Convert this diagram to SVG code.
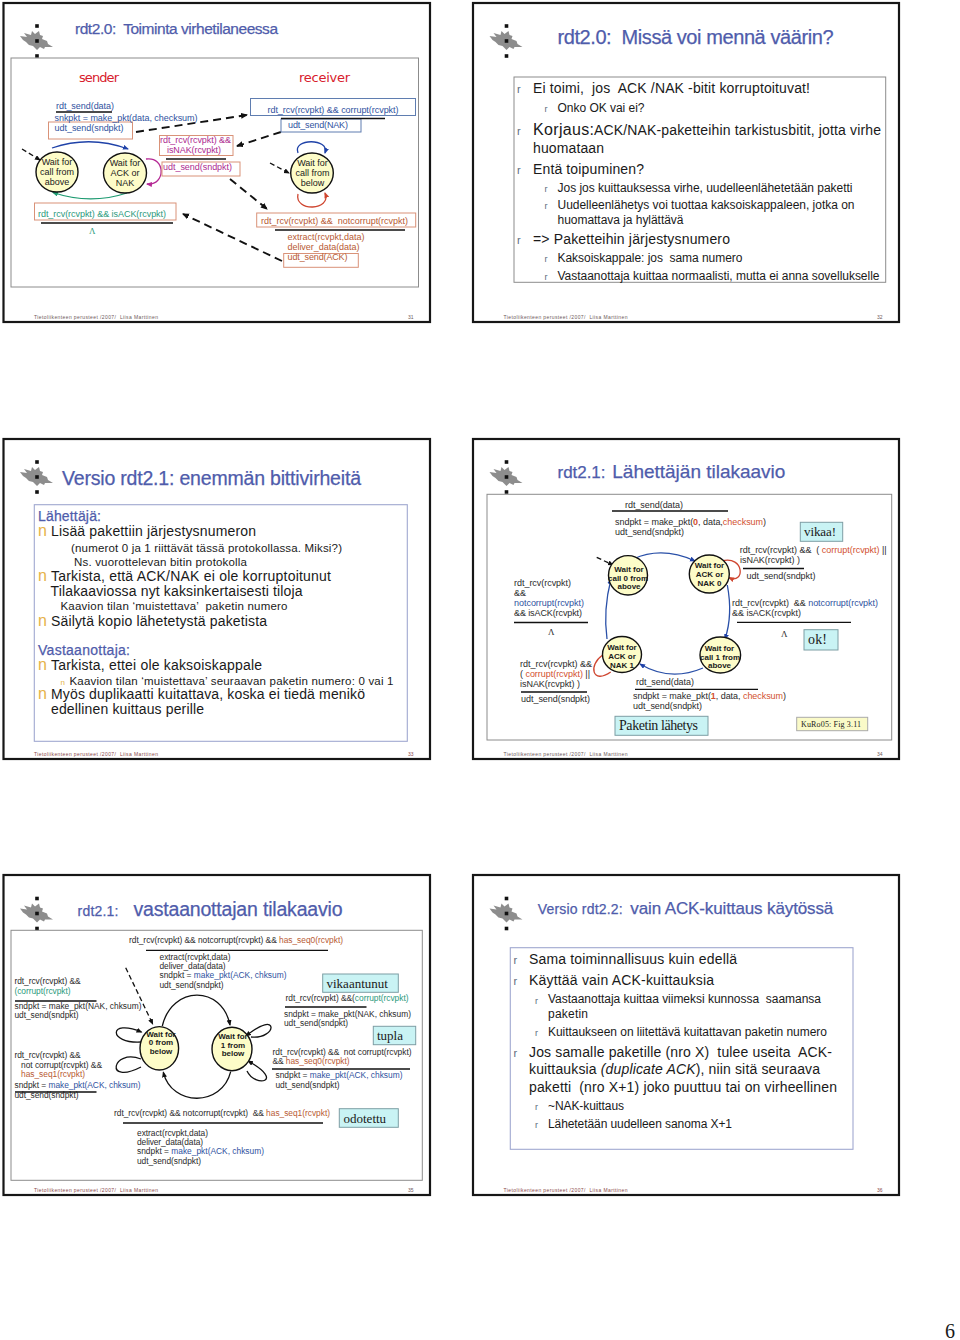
<svg xmlns="http://www.w3.org/2000/svg" width="960" height="1340" viewBox="0 0 960 1340">
<style>
text{font-family:"Liberation Sans",Arial,sans-serif;white-space:pre;fill:#1a1a1a}
.serif{font-family:"Liberation Serif","Times New Roman",serif}
.frame{fill:#fff;stroke:#161616;stroke-width:2.2}
.box{fill:none;stroke:#8c8c8c;stroke-width:1}
.boxb{fill:none;stroke:#a0a8d0;stroke-width:1.1}
.title{fill:#4f5cab;stroke:#4f5cab;stroke-width:.25}
.foot{font-size:5px;fill:#6e5a5a}
.footr{font-size:5px;fill:#8a4a4a}
.s9{font-size:9px;fill:#2a2a2a}
#slide35 .s9{font-size:8.4px}
.bl{fill:#2f52a0}.gr{fill:#2b9a7c}.mg{fill:#ad2a90}.or{fill:#b85a34}.rd{fill:#d2502f}
.nb{font-size:8px;font-weight:bold;text-anchor:middle}
.nr{font-size:9px;text-anchor:middle}
.st{fill:#fdfcc8;stroke:#111;stroke-width:1.4}
.rr{fill:none;stroke:#d99278;stroke-width:1}
.rb{fill:none;stroke:#5f7db0;stroke-width:1}
.lbl{fill:#c9f3f4;stroke:#7d9ea4;stroke-width:1}
.ul{stroke:#111;stroke-width:1.3;fill:none}
.dash{stroke:#111;stroke-width:1.9;fill:none;stroke-dasharray:8 5;marker-end:url(#ak)}
.dash2{stroke:#111;stroke-width:1.3;fill:none;stroke-dasharray:5 3;marker-end:url(#ak2)}
.c{fill:none;stroke-width:1.3}
.r1{font-size:11px;fill:#5d6d7d}.r2{font-size:9px;fill:#5d6d7d}
.n1{font-size:16px;fill:#e6b34a}.n2{font-size:8px;fill:#e6b34a}
.b14{font-size:14px}.b12{font-size:12px}
</style>
<defs>
<marker id="ak" markerWidth="8" markerHeight="8" refX="6" refY="3" orient="auto" markerUnits="userSpaceOnUse"><path d="M0 0L7 3L0 6z" fill="#111"/></marker>
<marker id="ak2" markerWidth="7" markerHeight="7" refX="5" refY="2.5" orient="auto" markerUnits="userSpaceOnUse"><path d="M0 0L6 2.5L0 5z" fill="#111"/></marker>
<marker id="ab" markerWidth="7" markerHeight="7" refX="5" refY="2.5" orient="auto" markerUnits="userSpaceOnUse"><path d="M0 0L6 2.5L0 5z" fill="#1f42a8"/></marker>
<marker id="ag" markerWidth="7" markerHeight="7" refX="5" refY="2.5" orient="auto" markerUnits="userSpaceOnUse"><path d="M0 0L6 2.5L0 5z" fill="#1c9a70"/></marker>
<marker id="am" markerWidth="7" markerHeight="7" refX="5" refY="2.5" orient="auto" markerUnits="userSpaceOnUse"><path d="M0 0L6 2.5L0 5z" fill="#b52a95"/></marker>
<marker id="ar" markerWidth="7" markerHeight="7" refX="5" refY="2.5" orient="auto" markerUnits="userSpaceOnUse"><path d="M0 0L6 2.5L0 5z" fill="#cf4630"/></marker>
<g id="logo">
<path d="M-17 -5L-10 -4L-13 -8L-6 -6L-5 -10L-2 -7L2 -10L3 -6L6 -5L5 -2L10 0L11 3L16 6L8 6L7 8L3 6L0 9L-4 5L-8 4L-11 1L-14 -1z" fill="#8d8d8d"/>
<rect x="-1.8" y="-16.8" width="3.6" height="3.6" fill="#111"/>
<rect x="-1.8" y="-1.8" width="3.6" height="3.6" fill="#111"/>
<rect x="-1.8" y="13.2" width="3.6" height="3.6" fill="#111"/>
</g>
</defs>
<rect width="960" height="1340" fill="#fff"/>

<g id="frames">
<rect class="frame" x="3.5" y="3" width="426.5" height="319"/>
<rect class="frame" x="473" y="3" width="426" height="319"/>
<rect class="frame" x="3.5" y="439" width="426.5" height="320"/>
<rect class="frame" x="473" y="439" width="426" height="320"/>
<rect class="frame" x="3.5" y="875" width="426.5" height="320"/>
<rect class="frame" x="473" y="875" width="426" height="320"/>
<use href="#logo" x="37" y="41"/><use href="#logo" x="506.5" y="41"/>
<use href="#logo" x="37" y="477"/><use href="#logo" x="506.5" y="477"/>
<use href="#logo" x="37" y="913.5"/><use href="#logo" x="506.5" y="913.5"/>
<rect class="box" x="11" y="58" width="407.5" height="229"/>
<rect class="box" x="514" y="77" width="371.7" height="205.3"/>
<rect class="boxb" x="34.3" y="504.7" width="373" height="236.6"/>
<rect class="box" x="487" y="494.3" width="404.7" height="245.7"/>
<rect class="box" x="11" y="930.3" width="411.3" height="250"/>
<rect class="boxb" x="510.3" y="947.7" width="342.7" height="201.6"/>
</g>

<g id="connectors">
<!-- slide 31 -->
<path class="dash" d="M136 132L247 115"/>
<path class="dash" d="M281 132L237 146"/>
<path class="dash" d="M230 179L267 209"/>
<path class="dash" d="M282 261L183 214"/>
<path class="dash2" d="M22 149L40 160"/>
<path class="dash2" d="M270 163L289 173"/>
<path class="c" stroke="#1f42a8" stroke-width="1.5" marker-end="url(#ab)" d="M52 148Q90 135 128 149"/>
<path class="c" stroke="#1c9a70" marker-end="url(#ag)" d="M127 193Q90 205 53 192.5"/>
<path class="c" stroke="#b52a95" marker-end="url(#am)" d="M146 159C166 156 166 186 147 184"/>
<path class="c" stroke="#1f42a8" marker-end="url(#ab)" d="M298 153C292 138 330 138 325 153"/>
<path class="c" stroke="#cf4630" marker-end="url(#ar)" d="M298 194C294 212 332 211 325 193"/>
<!-- slide 34 -->
<path class="c" stroke="#2a50a8" marker-end="url(#ab)" d="M633.3 559Q662 546 695 561"/>
<path class="c" stroke="#2a50a8" marker-end="url(#ab)" d="M727.3 585Q733 615 725 639"/>
<path class="c" stroke="#2a50a8" marker-end="url(#ab)" d="M703 668Q670 682 640 664"/>
<path class="c" stroke="#2a50a8" marker-end="url(#ab)" d="M607 639Q603 610 611 579"/>
<path class="c" stroke="#cf4630" marker-end="url(#ar)" d="M721.7 561C745 555 745 585 729 577.7"/>
<path class="c" stroke="#cf4630" d="M602.7 655C588 665 592 685 610.7 672"/>
<path class="dash2" d="M596.7 557.3L613 565"/>
<!-- slide 35 -->
<path class="c" stroke="#111" marker-end="url(#ak2)" d="M162.3 1026C172 985 222 985 230 1025"/>
<path class="c" stroke="#111" marker-end="url(#ak2)" d="M230.7 1071.7C222 1107 172 1107 163.3 1072.3"/>
<path class="c" stroke="#111" marker-end="url(#ak2)" d="M141 1042C108 1044 108 1018 141.5 1032"/>
<path class="c" stroke="#111" d="M141 1059C112 1048 104 1086 141 1067"/>
<path class="c" stroke="#111" marker-end="url(#ak2)" d="M251 1037C277 1040 280 1008 246 1036"/>
<path class="c" stroke="#111" marker-end="url(#ak2)" d="M247 1071C255 1088 286 1082 248 1061"/>
<path class="dash2" d="M125.7 967.7L152.7 1024"/>
</g>

<g id="state-above-31"><ellipse class="st" cx="57" cy="172" rx="21" ry="20"/><text class="nr" x="57" y="165">Wait for</text><text class="nr" x="57" y="175">call from</text><text class="nr" x="57" y="185">above</text></g>
<g id="state-ack-31"><ellipse class="st" cx="125" cy="173" rx="21.5" ry="20"/><text class="nr" x="125" y="166">Wait for</text><text class="nr" x="125" y="176">ACK or</text><text class="nr" x="125" y="186">NAK</text></g>
<g id="state-below-31"><ellipse class="st" cx="312" cy="173" rx="21.3" ry="20"/><text class="nr" x="312.5" y="166">Wait for</text><text class="nr" x="312.5" y="176">call from</text><text class="nr" x="312.5" y="186">below</text></g>

<g id="state-call0"><ellipse class="st" cx="628" cy="575.3" rx="19.5" ry="19.7"/><text class="nb" x="629" y="571.7">Wait for</text><text class="nb" x="628" y="580.5">call 0 from</text><text class="nb" x="629" y="589">above</text></g>
<g id="state-nak0"><ellipse class="st" cx="709.3" cy="574" rx="20" ry="19"/><text class="nb" x="709.5" y="568">Wait for</text><text class="nb" x="709.5" y="577">ACK or</text><text class="nb" x="709.5" y="585.5">NAK 0</text></g>
<g id="state-call1"><ellipse class="st" cx="720.3" cy="655" rx="20.3" ry="18"/><text class="nb" x="719.5" y="651">Wait for</text><text class="nb" x="720" y="660">call 1 from</text><text class="nb" x="719.5" y="668">above</text></g>
<g id="state-nak1"><ellipse class="st" cx="622" cy="654.5" rx="19.5" ry="18"/><text class="nb" x="622" y="650">Wait for</text><text class="nb" x="622" y="659">ACK or</text><text class="nb" x="622" y="667.5">NAK 1</text></g>

<g id="state-0below"><ellipse class="st" cx="159.3" cy="1048.3" rx="19.3" ry="21.7"/><text class="nb" x="161" y="1036.7">Wait for</text><text class="nb" x="161" y="1045.3">0 from</text><text class="nb" x="161" y="1054">below</text></g>
<g id="state-1below"><ellipse class="st" cx="232" cy="1049" rx="20" ry="21.7"/><text class="nb" x="233" y="1039">Wait for</text><text class="nb" x="233" y="1047.7">1 from</text><text class="nb" x="233" y="1056.3">below</text></g>

<g id="slide31">
<text class="title" x="75" y="34" font-size="15.5" textLength="203">rdt2.0:  Toiminta virhetilaneessa</text>
<text x="79" y="82" font-size="13" style="font-family:'DejaVu Sans',sans-serif;fill:#d8202c" textLength="40">sender</text>
<text x="299" y="82" font-size="13" style="font-family:'DejaVu Sans',sans-serif;fill:#d8202c" textLength="51">receiver</text>
<rect class="rr" x="48.5" y="122" width="84" height="17"/>
<rect class="rb" x="250.5" y="98.5" width="165" height="17"/>
<rect class="rb" x="281" y="119" width="80" height="13"/>
<rect class="rr" x="159.5" y="135.5" width="73.5" height="20"/>
<rect class="rr" x="162" y="162" width="78" height="14"/>
<rect class="rr" x="34.5" y="203" width="141.5" height="17"/>
<rect class="rr" x="256.7" y="213" width="159" height="14"/>
<rect class="rr" x="283.7" y="253.5" width="74.6" height="13.8"/>
<text class="s9 bl" x="56" y="108.7" textLength="58">rdt_send(data)</text>
<text class="s9 bl" x="54.5" y="121" textLength="143">snkpkt = make_pkt(data, checksum)</text>
<text class="s9 bl" x="54.5" y="131" textLength="69">udt_send(sndpkt)</text>
<text class="s9 bl" x="267.5" y="113" textLength="131">rdt_rcv(rcvpkt) &amp;&amp; corrupt(rcvpkt)</text>
<text class="s9 bl" x="288" y="128" textLength="60">udt_send(NAK)</text>
<text class="s9 mg" x="160" y="143" textLength="71">rdt_rcv(rcvpkt) &amp;&amp;</text>
<text class="s9 mg" x="167" y="153" textLength="54">isNAK(rcvpkt)</text>
<text class="s9 mg" x="163" y="170" textLength="69">udt_send(sndpkt)</text>
<text class="s9 gr" x="38" y="216.5" textLength="128">rdt_rcv(rcvpkt) &amp;&amp; isACK(rcvpkt)</text>
<text class="serif gr" x="89" y="234" font-size="9">Λ</text>
<text class="s9 or" x="261" y="224" textLength="147">rdt_rcv(rcvpkt) &amp;&amp;  notcorrupt(rcvpkt)</text>
<text class="s9 or" x="287.5" y="240" textLength="77">extract(rcvpkt,data)</text>
<text class="s9 or" x="287.5" y="250" textLength="72">deliver_data(data)</text>
<text class="s9 or" x="287.5" y="260" textLength="60">udt_send(ACK)</text>
<path class="ul" d="M56 112H112M281 118.5H385M166 159H226M41 223H173M275 230H405"/>
<text class="foot" x="34" y="319" textLength="124">Tietoliikenteen perusteet /2007/  Liisa Marttinen</text>
<text class="foot" x="408" y="319">31</text>
</g>

<g id="slide32">
<text class="title" x="557.5" y="44" font-size="20" textLength="276">rdt2.0:  Missä voi mennä väärin?</text>
<text class="r1" x="517" y="93">r</text><text class="b14" x="533" y="93.3" textLength="277">Ei toimi,  jos  ACK /NAK -bitit korruptoituvat!</text>
<text class="r2" x="544.5" y="111.5">r</text><text class="b12" x="557.5" y="112" textLength="87">Onko OK vai ei?</text>
<text class="r1" x="517" y="135">r</text><text x="533" y="135" font-size="16" textLength="61">Korjaus:</text><text class="b14" x="594" y="135" textLength="287">ACK/NAK-paketteihin tarkistusbitit, jotta virhe</text>
<text class="b14" x="533" y="153" textLength="71">huomataan</text>
<text class="r1" x="517" y="174">r</text><text class="b14" x="533" y="174" textLength="111">Entä toipuminen?</text>
<text class="r2" x="544.5" y="191.5">r</text><text class="b12" x="557.5" y="192" textLength="295">Jos jos kuittauksessa virhe, uudelleenlähetetään paketti</text>
<text class="r2" x="544.5" y="209">r</text><text class="b12" x="557.5" y="209" textLength="297">Uudelleenlähetys voi tuottaa kaksoiskappaleen, jotka on</text>
<text class="b12" x="557.5" y="224" textLength="126">huomattava ja hylättävä</text>
<text class="r1" x="517" y="244">r</text><text class="b14" x="533" y="244" textLength="197">=> Paketteihin järjestysnumero</text>
<text class="r2" x="544.5" y="262">r</text><text class="b12" x="557.5" y="262" textLength="185">Kaksoiskappale: jos  sama numero</text>
<text class="r2" x="544.5" y="280">r</text><text class="b12" x="557.5" y="280" textLength="322">Vastaanottaja kuittaa normaalisti, mutta ei anna sovellukselle</text>
<text class="foot" x="503.5" y="319" textLength="124">Tietoliikenteen perusteet /2007/  Liisa Marttinen</text>
<text class="foot" x="877" y="319">32</text>
</g>

<g id="slide33">
<text class="title" x="62" y="485" font-size="19.5" textLength="299">Versio rdt2.1: enemmän bittivirheitä</text>
<text class="title b14" x="38" y="521" textLength="63">Lähettäjä:</text>
<text class="n1" x="38" y="536">n</text><text class="b14" x="51" y="536" textLength="205">Lisää pakettiin järjestysnumeron</text>
<text x="71" y="551.7" font-size="11.5" textLength="271">(numerot 0 ja 1 riittävät tässä protokollassa. Miksi?)</text>
<text x="74" y="566" font-size="11.5" textLength="173">Ns. vuorottelevan bitin protokolla</text>
<text class="n1" x="38" y="580.7">n</text><text class="b14" x="51" y="580.7" textLength="280">Tarkista, että ACK/NAK ei ole korruptoitunut</text>
<text class="b14" x="50.5" y="595.7" textLength="252">Tilakaaviossa nyt kaksinkertaisesti tiloja</text>
<text x="60.5" y="610" font-size="11.5" textLength="227">Kaavion tilan ‘muistettava’  paketin numero</text>
<text class="n1" x="38" y="625.7">n</text><text class="b14" x="51" y="625.7" textLength="216">Säilytä kopio lähetetystä paketista</text>
<text class="title b14" x="38" y="655" textLength="92">Vastaanottaja:</text>
<text class="n1" x="38" y="669.7">n</text><text class="b14" x="51" y="669.7" textLength="211">Tarkista, ettei ole kaksoiskappale</text>
<text class="n2" x="60.5" y="685">n</text><text x="69.5" y="685" font-size="11.5" textLength="324">Kaavion tilan ‘muistettava’ seuraavan paketin numero: 0 vai 1</text>
<text class="n1" x="38" y="699.3">n</text><text class="b14" x="51" y="699.3" textLength="314">Myös duplikaatti kuitattava, koska ei tiedä menikö</text>
<text class="b14" x="51" y="714.3" textLength="153">edellinen kuittaus perille</text>
<text class="footr" x="34" y="755.5" textLength="124">Tietoliikenteen perusteet /2007/  Liisa Marttinen</text>
<text class="footr" x="408" y="755.5">33</text>
</g>

<g id="slide34">
<text class="title" x="557.5" y="477.7" font-size="17" textLength="48">rdt2.1:</text>
<text class="title" x="612.3" y="477.7" font-size="19" textLength="173">Lähettäjän tilakaavio</text>
<text class="s9" x="625" y="507.7" textLength="58">rdt_send(data)</text>
<text class="s9" x="615" y="525" textLength="151">sndpkt = make_pkt(<tspan class="rd" font-weight="bold">0</tspan>, data,<tspan class="rd">checksum</tspan>)</text>
<text class="s9" x="615" y="535" textLength="69">udt_send(sndpkt)</text>
<rect class="lbl" x="800.3" y="522.3" width="42.4" height="19"/>
<text class="serif" x="804" y="536" font-size="13" textLength="32">vikaa!</text>
<text class="s9" x="739.7" y="552.7" textLength="147">rdt_rcv(rcvpkt) &amp;&amp;  ( <tspan class="rd">corrupt(rcvpkt)</tspan> ||</text>
<text class="s9" x="740" y="563" textLength="60">isNAK(rcvpkt) )</text>
<text class="s9" x="746.5" y="578.7" textLength="69">udt_send(sndpkt)</text>
<text class="s9" x="732" y="606" textLength="146">rdt_rcv(rcvpkt)  &amp;&amp; <tspan class="bl">notcorrupt(rcvpkt)</tspan></text>
<text class="s9" x="732" y="616" textLength="69">&amp;&amp; isACK(rcvpkt)</text>
<text class="serif s9" x="781" y="636.7">Λ</text>
<rect class="lbl" x="804" y="629.7" width="34" height="20.3"/>
<text class="serif" x="808" y="644" font-size="14" textLength="19">ok!</text>
<text class="s9" x="514" y="585.7" textLength="57">rdt_rcv(rcvpkt)</text>
<text class="s9" x="514" y="595.7">&amp;&amp;</text>
<text class="s9 bl" x="514" y="605.7" textLength="70">notcorrupt(rcvpkt)</text>
<text class="s9" x="514" y="615.7" textLength="68">&amp;&amp; isACK(rcvpkt)</text>
<text class="serif s9" x="548" y="635">Λ</text>
<text class="s9" x="520" y="667.3" textLength="72">rdt_rcv(rcvpkt) &amp;&amp;</text>
<text class="s9" x="520" y="677.3" textLength="70">( <tspan class="rd">corrupt(rcvpkt)</tspan> ||</text>
<text class="s9" x="520" y="687.3" textLength="60">isNAK(rcvpkt) )</text>
<text class="s9" x="521" y="702.3" textLength="69">udt_send(sndpkt)</text>
<text class="s9" x="636" y="685" textLength="58">rdt_send(data)</text>
<text class="s9" x="633" y="699" textLength="153">sndpkt = make_pkt(<tspan class="rd" font-weight="bold">1</tspan>, data, <tspan class="rd">checksum</tspan>)</text>
<text class="s9" x="633" y="709" textLength="69">udt_send(sndpkt)</text>
<rect class="lbl" x="615" y="716.3" width="93" height="19"/>
<text class="serif" x="619" y="730" font-size="14" textLength="79">Paketin lähetys</text>
<rect x="796.7" y="717.3" width="71" height="13.4" fill="#fafac8" stroke="#aaa" stroke-width="1"/>
<text class="serif" x="801" y="727" font-size="8" textLength="60">KuRo05: Fig 3.11</text>
<path class="ul" d="M612 511H728M743 568.5H804M737 622.3H851M514 622.5H588M521 692H587M635 689.3H758"/>
<text class="foot" x="503.5" y="755.5" textLength="124">Tietoliikenteen perusteet /2007/  Liisa Marttinen</text>
<text class="foot" x="877" y="755.5">34</text>
</g>

<g id="slide35">
<text class="title" x="77.5" y="916" font-size="14" textLength="41">rdt2.1:</text>
<text class="title" x="133.5" y="916" font-size="19.5" textLength="209">vastaanottajan tilakaavio</text>
<text class="s9" x="129" y="943.3" textLength="214">rdt_rcv(rcvpkt) &amp;&amp; notcorrupt(rcvpkt) &amp;&amp; <tspan class="or">has_seq0(rcvpkt)</tspan></text>
<text class="s9" x="159.5" y="960" textLength="71">extract(rcvpkt,data)</text>
<text class="s9" x="159.5" y="969" textLength="66">deliver_data(data)</text>
<text class="s9" x="159.5" y="978.3" textLength="127">sndpkt = <tspan class="bl">make_pkt(ACK, chksum)</tspan></text>
<text class="s9" x="159.5" y="987.5" textLength="64">udt_send(sndpkt)</text>
<text class="s9" x="14.5" y="984" textLength="66">rdt_rcv(rcvpkt) &amp;&amp;</text>
<text class="s9 gr" x="14.5" y="993.5" textLength="56">(corrupt(rcvpkt)</text>
<text class="s9" x="14.5" y="1008.7" textLength="127">sndpkt = make_pkt(NAK, chksum)</text>
<text class="s9" x="14.5" y="1018" textLength="64">udt_send(sndpkt)</text>
<text class="s9" x="14.5" y="1058" textLength="66">rdt_rcv(rcvpkt) &amp;&amp;</text>
<text class="s9" x="21" y="1067.5" textLength="81">not corrupt(rcvpkt) &amp;&amp;</text>
<text class="s9 or" x="21" y="1076.7" textLength="64">has_seq1(rcvpkt)</text>
<text class="s9" x="14.5" y="1088.3" textLength="126">sndpkt = <tspan class="bl">make_pkt(ACK, chksum)</tspan></text>
<text class="s9" x="14.5" y="1098" textLength="64">udt_send(sndpkt)</text>
<rect class="lbl" x="322.7" y="974" width="75.6" height="18.3"/>
<text class="serif" x="326.5" y="988" font-size="13">vikaantunut</text>
<text class="s9" x="285.5" y="1000.7" textLength="123">rdt_rcv(rcvpkt) &amp;&amp;(<tspan class="gr">corrupt(rcvpkt)</tspan></text>
<text class="s9" x="284" y="1016.7" textLength="127">sndpkt = make_pkt(NAK, chksum)</text>
<text class="s9" x="284" y="1026" textLength="64">udt_send(sndpkt)</text>
<rect class="lbl" x="373.3" y="1026.3" width="42.4" height="18.4"/>
<text class="serif" x="377" y="1040" font-size="13">tupla</text>
<text class="s9" x="272.5" y="1054.7" textLength="139">rdt_rcv(rcvpkt) &amp;&amp;  not corrupt(rcvpkt)</text>
<text class="s9" x="272.5" y="1064" textLength="77">&amp;&amp; <tspan class="or">has_seq0(rcvpkt)</tspan></text>
<text class="s9" x="275.5" y="1078.3" textLength="127">sndpkt = <tspan class="bl">make_pkt(ACK, chksum)</tspan></text>
<text class="s9" x="275.5" y="1088" textLength="64">udt_send(sndpkt)</text>
<text class="s9" x="114" y="1115.7" textLength="216">rdt_rcv(rcvpkt) &amp;&amp; notcorrupt(rcvpkt)  &amp;&amp; <tspan class="or">has_seq1(rcvpkt)</tspan></text>
<rect class="lbl" x="339.3" y="1108.7" width="59" height="18.6"/>
<text class="serif" x="343.5" y="1123" font-size="13">odotettu</text>
<text class="s9" x="137" y="1136" textLength="71">extract(rcvpkt,data)</text>
<text class="s9" x="137" y="1145" textLength="66">deliver_data(data)</text>
<text class="s9" x="137" y="1154.3" textLength="127">sndpkt = <tspan class="bl">make_pkt(ACK, chksum)</tspan></text>
<text class="s9" x="137" y="1164" textLength="64">udt_send(sndpkt)</text>
<path class="ul" d="M146 950.3H328M15 1001H96.5M15 1092H96.5M285 1007H366.5M272 1069H410M123 1123H323"/>
<text class="footr" x="34" y="1191.5" textLength="124">Tietoliikenteen perusteet /2007/  Liisa Marttinen</text>
<text class="foot" x="408" y="1191.5">35</text>
</g>

<g id="slide36">
<text class="title" x="537.7" y="914.3" font-size="14" textLength="85">Versio rdt2.2:</text>
<text class="title" x="630.3" y="914.3" font-size="17" textLength="203">vain ACK-kuittaus käytössä</text>
<text class="r1" x="513.5" y="964">r</text><text class="b14" x="529" y="964" textLength="208">Sama toiminnallisuus kuin edellä</text>
<text class="r1" x="513.5" y="985">r</text><text class="b14" x="529" y="985" textLength="185">Käyttää vain ACK-kuittauksia</text>
<text class="r2" x="535" y="1003.5">r</text><text class="b12" x="548" y="1003.3" textLength="273">Vastaanottaja kuittaa viimeksi kunnossa  saamansa</text>
<text class="b12" x="548" y="1018.3" textLength="40">paketin</text>
<text class="r2" x="535" y="1036">r</text><text class="b12" x="548" y="1036" textLength="279">Kuittaukseen on liitettävä kuitattavan paketin numero</text>
<text class="r1" x="513.5" y="1056.7">r</text><text class="b14" x="529" y="1056.7" textLength="303">Jos samalle paketille (nro X)  tulee useita  ACK-</text>
<text class="b14" x="529" y="1074" textLength="291">kuittauksia <tspan font-style="italic">(duplicate ACK</tspan>), niin sitä seuraava</text>
<text class="b14" x="529" y="1091.7" textLength="308">paketti  (nro X+1) joko puuttuu tai on virheellinen</text>
<text class="r2" x="535" y="1110">r</text><text class="b12" x="548" y="1110" textLength="76">~NAK-kuittaus</text>
<text class="r2" x="535" y="1128">r</text><text class="b12" x="548" y="1128" textLength="184">Lähetetään uudelleen sanoma X+1</text>
<text class="footr" x="503.5" y="1191.5" textLength="124">Tietoliikenteen perusteet /2007/  Liisa Marttinen</text>
<text class="footr" x="877" y="1191.5">36</text>
</g>

<text class="serif" x="945" y="1338" font-size="20">6</text>
</svg>
